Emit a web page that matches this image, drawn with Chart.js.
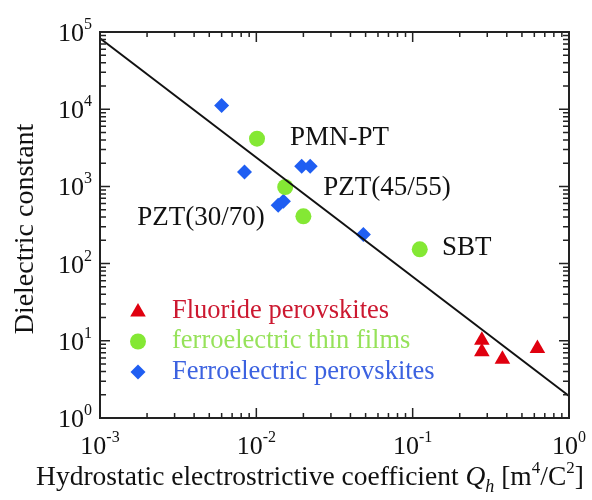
<!DOCTYPE html>
<html>
<head>
<meta charset="utf-8">
<script src="https://cdn.jsdelivr.net/npm/chart.js@4.4.0/dist/chart.umd.min.js"></script>
<style>
  html, body { margin: 0; padding: 0; background: #fff; }
  #wrap { width: 592px; height: 500px; }
</style>
</head>
<body>
<div id="wrap"><canvas id="chart" width="592" height="500"></canvas></div>
<script>
// Q_h [m^4/C^2] against dielectric constant
const fluorideQ = [0.277, 0.277, 0.375, 0.628];
const fluorideK = [10.2, 7.2, 5.75, 7.97];
const filmQ = [0.0101, 0.0153, 0.020, 0.111];
const filmK = [4150, 982, 410, 153];
const perovQ = [0.0060, 0.0084, 0.0138, 0.0149, 0.0195, 0.0221, 0.0484];
const perovK = [11200, 1540, 570, 640, 1820, 1820, 238];
// straight guide line across the plot
const fitQ = [0.001, 1];
const fitK = [83000, 1.93];

// decade exponents for the tick labels
const xTickExp = [-3, -2, -1, 0];
const yTickExp = [0, 1, 2, 3, 4, 5];

const seriesNames = ['Fluoride perovskites', 'ferroelectric thin films', 'Ferroelectric perovskites'];

// text notes placed in data space (left edge, vertical middle)
const noteText = ['PMN-PT', 'PZT(45/55)', 'PZT(30/70)', 'SBT'];
const noteQ = [0.0164, 0.0268, 0.00173, 0.154];
const noteK = [4190, 945, 387, 158];

const RED = '#e0000f';
const GREEN = '#84e834';
const BLUE = '#1f5ef2';
const SERIF = '"Liberation Serif", "Times New Roman", serif';

const zip = (xs, ys) => xs.map((x, i) => ({ x, y: ys[i] }));

function marker(ctx, style, x, y, r, color) {
  ctx.save();
  ctx.fillStyle = color;
  ctx.beginPath();
  if (style === 'triangle') {
    let a = 0;
    for (let i = 0; i < 3; i++) {
      ctx.lineTo(x + Math.sin(a) * r, y - Math.cos(a) * r);
      a += Math.PI * 2 / 3;
    }
  } else if (style === 'circle') {
    ctx.arc(x, y, r, 0, Math.PI * 2);
  } else {
    ctx.moveTo(x, y - r);
    ctx.lineTo(x + r, y);
    ctx.lineTo(x, y + r);
    ctx.lineTo(x - r, y);
  }
  ctx.closePath();
  ctx.fill();
  ctx.restore();
}

function powLabel(ctx, exp, x, y, align) {
  const base = '10', sup = String(exp);
  ctx.font = '26px ' + SERIF;
  const wb = ctx.measureText(base).width;
  ctx.font = '16px ' + SERIF;
  const ws = ctx.measureText(sup).width;
  const left = align === 'center' ? x - (wb + ws) / 2 : x - wb - ws;
  ctx.textAlign = 'left';
  ctx.textBaseline = 'alphabetic';
  ctx.font = '26px ' + SERIF;
  ctx.fillText(base, left, y);
  ctx.font = '16px ' + SERIF;
  ctx.fillText(sup, left + wb, y - 12);
}

function logMinor(lo, hi) {
  const out = [];
  for (let d = lo; d < hi; d++) {
    for (let m = 2; m <= 9; m++) out.push(m * Math.pow(10, d));
  }
  return out;
}

const decorations = {
  id: 'decorations',
  afterDraw(chart) {
    const ctx = chart.ctx;
    const { left, right, top, bottom } = chart.chartArea;
    const xs = chart.scales.x, ys = chart.scales.y;
    ctx.save();

    // frame
    ctx.strokeStyle = '#222';
    ctx.lineWidth = 2;
    ctx.strokeRect(left, top, right - left, bottom - top);

    // inward ticks on all four sides
    ctx.lineWidth = 1.5;
    ctx.beginPath();
    const xMajor = xTickExp.map(e => Math.pow(10, e));
    const yMajor = yTickExp.map(e => Math.pow(10, e));
    const tickX = (v, len) => {
      const p = xs.getPixelForValue(v);
      ctx.moveTo(p, bottom); ctx.lineTo(p, bottom - len);
      ctx.moveTo(p, top); ctx.lineTo(p, top + len);
    };
    const tickY = (v, len) => {
      const p = ys.getPixelForValue(v);
      ctx.moveTo(left, p); ctx.lineTo(left + len, p);
      ctx.moveTo(right, p); ctx.lineTo(right - len, p);
    };
    xMajor.forEach(v => tickX(v, 10));
    logMinor(xTickExp[0], xTickExp[xTickExp.length - 1]).forEach(v => tickX(v, 5));
    yMajor.forEach(v => tickY(v, 10));
    logMinor(yTickExp[0], yTickExp[yTickExp.length - 1]).forEach(v => tickY(v, 6));
    ctx.stroke();

    // tick labels
    ctx.fillStyle = '#111';
    xTickExp.forEach(e => powLabel(ctx, e, xs.getPixelForValue(Math.pow(10, e)), bottom + 36, 'center'));
    yTickExp.forEach(e => powLabel(ctx, e, left - 8, ys.getPixelForValue(Math.pow(10, e)) + 9, 'right'));

    // y title
    ctx.save();
    ctx.font = '28px ' + SERIF;
    ctx.textAlign = 'center';
    ctx.textBaseline = 'alphabetic';
    ctx.translate(33, 229);
    ctx.rotate(-Math.PI / 2);
    ctx.fillText('Dielectric constant', 0, 0);
    ctx.restore();

    // x title with italic Q, subscript h and superscripts
    const runs = [
      { t: 'Hydrostatic electrostrictive coefficient ', f: '27.5px ' + SERIF, dy: 0 },
      { t: 'Q', f: 'italic 27.5px ' + SERIF, dy: 0 },
      { t: 'h', f: 'italic 18px ' + SERIF, dy: 7 },
      { t: ' [m', f: '27.5px ' + SERIF, dy: 0 },
      { t: '4', f: '17px ' + SERIF, dy: -12 },
      { t: '/C', f: '27.5px ' + SERIF, dy: 0 },
      { t: '2', f: '17px ' + SERIF, dy: -12 },
      { t: ']', f: '27.5px ' + SERIF, dy: 0 }
    ];
    let total = 0;
    runs.forEach(r => { ctx.font = r.f; r.w = ctx.measureText(r.t).width; total += r.w; });
    let cx = 310 - total / 2;
    ctx.textAlign = 'left';
    runs.forEach(r => {
      ctx.font = r.f;
      ctx.fillText(r.t, cx, 485 + r.dy);
      cx += r.w;
    });

    // material notes
    ctx.font = '27px ' + SERIF;
    ctx.textBaseline = 'middle';
    noteText.forEach((t, i) => {
      ctx.fillText(t, xs.getPixelForValue(noteQ[i]), ys.getPixelForValue(noteK[i]));
    });

    // legend inside the plot
    const styles = ['triangle', 'circle', 'rectRot'];
    const markColors = [RED, GREEN, BLUE];
    const textColors = ['#cc1830', '#96e25a', '#3c62e0'];
    const sizes = [9, 8, 7.5];
    seriesNames.forEach((name, i) => {
      const y = 311 + i * 30.5;
      marker(ctx, styles[i], left + 38, y + (i === 0 ? 1 : 0), sizes[i], markColors[i]);
      ctx.fillStyle = textColors[i];
      ctx.font = '26.5px ' + SERIF;
      ctx.textBaseline = 'middle';
      ctx.fillText(name, left + 72, y);
    });

    ctx.restore();
  }
};

new Chart(document.getElementById('chart'), {
  type: 'scatter',
  data: {
    datasets: [
      {
        type: 'line',
        data: zip(fitQ, fitK),
        borderColor: '#111',
        borderWidth: 1.8,
        pointRadius: 0,
        fill: false,
        order: 0
      },
      {
        label: seriesNames[0],
        data: zip(fluorideQ, fluorideK),
        pointStyle: 'triangle',
        pointRadius: 9,
        backgroundColor: RED,
        borderColor: RED,
        borderWidth: 0,
        order: 1
      },
      {
        label: seriesNames[1],
        data: zip(filmQ, filmK),
        pointStyle: 'circle',
        pointRadius: 8,
        backgroundColor: GREEN,
        borderColor: GREEN,
        borderWidth: 0,
        order: 1
      },
      {
        label: seriesNames[2],
        data: zip(perovQ, perovK),
        pointStyle: 'rectRot',
        pointRadius: 7.5,
        backgroundColor: BLUE,
        borderColor: BLUE,
        borderWidth: 0,
        order: 1
      }
    ]
  },
  options: {
    responsive: false,
    animation: false,
    layout: { padding: { left: 100, top: 32, right: 23, bottom: 82 } },
    plugins: { legend: { display: false }, tooltip: { enabled: false } },
    scales: {
      x: { type: 'logarithmic', min: 0.001, max: 1, display: false },
      y: { type: 'logarithmic', min: 1, max: 100000, display: false }
    }
  },
  plugins: [decorations]
});
</script>
</body>
</html>
